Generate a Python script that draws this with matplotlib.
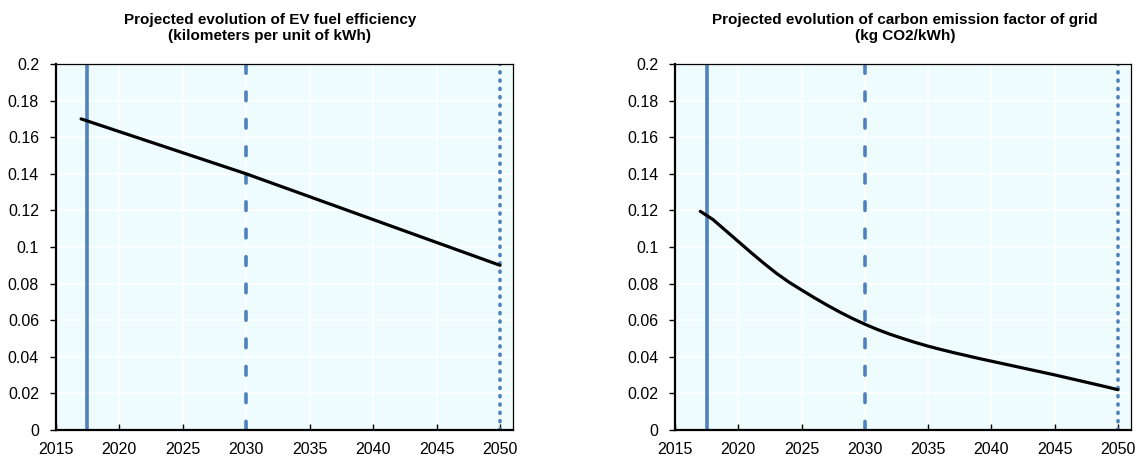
import matplotlib
matplotlib.use("Agg")
import matplotlib.pyplot as plt
from matplotlib.ticker import MultipleLocator

plt.rcParams['font.family'] = ['Liberation Sans', 'DejaVu Sans']

# EV fuel efficiency (kilometers per unit of kWh)
ev_years = [2017, 2030, 2050]
ev_values = [0.170, 0.140, 0.090]

# Carbon emission factor of grid (kg CO2/kWh)
grid_years = list(range(2017, 2051))
grid_values = [0.1195, 0.1150, 0.1090, 0.1030, 0.0970, 0.0912, 0.0857, 0.0808, 0.0765, 0.0723,
               0.0683, 0.0645, 0.0610, 0.0578, 0.0549, 0.0523, 0.0500, 0.0478, 0.0458, 0.0440,
               0.0423, 0.0407, 0.0391, 0.0376, 0.0361, 0.0346, 0.0331, 0.0316, 0.0301, 0.0285,
               0.0269, 0.0253, 0.0237, 0.0220]

titles = ["Projected evolution of EV fuel efficiency\n(kilometers per unit of kWh)",
          "Projected evolution of carbon emission factor of grid\n(kg CO2/kWh)"]
title_x = [270, 905]

# reference years: base, mid-term, long-term
marker_years = [2017.5, 2030, 2050]
marker_styles = ['-', (0, (2.4, 5.2)), (0, (0.3, 2.0))]

W, H = 1142, 463
fig = plt.figure(figsize=(W / 100, H / 100), dpi=100)
blue = '#4f81bd'
bg = '#effcfd'

axes_px = [(55.7, 512.7), (675, 1130.7)]
bottom, top = 430, 64

for i, (years, values) in enumerate([(ev_years, ev_values), (grid_years, grid_values)]):
    x0, x1 = axes_px[i]
    ax = fig.add_axes([x0 / W, 1 - bottom / H, (x1 - x0) / W, (bottom - top) / H])
    ax.set_facecolor(bg)
    ax.set_xlim(2015, 2051)
    ax.set_ylim(0, 0.2)
    ax.xaxis.set_major_locator(MultipleLocator(5))
    ax.yaxis.set_major_locator(MultipleLocator(0.02))
    ax.set_yticklabels([f"{v:g}" for v in ax.get_yticks()])
    ax.grid(True, color='white', linewidth=1.2)
    ax.set_axisbelow(True)

    for yr, ls in zip(marker_years, marker_styles):
        ax.axvline(yr, color=blue, linewidth=2.6, linestyle=ls,
                   dash_capstyle='round' if ls != '-' else 'butt', zorder=2)

    ax.plot(years, values, color='black', linewidth=2.3, solid_capstyle='round',
            solid_joinstyle='round', zorder=3)

    for side in ['left', 'bottom']:
        ax.spines[side].set_linewidth(1.6)
    for side in ['top', 'right']:
        ax.spines[side].set_linewidth(0.9)
    ax.tick_params(axis='y', direction='out', length=4, width=1, labelsize=11.5, pad=8)
    ax.tick_params(axis='x', direction='in', length=4, width=1, labelsize=11.5, pad=9)

    fig.text(title_x[i] / W, 1 - 13 / H, titles[i], ha='center', va='top',
             fontsize=11, fontweight='bold', linespacing=1.15)

fig.savefig('out.png', dpi=100)
